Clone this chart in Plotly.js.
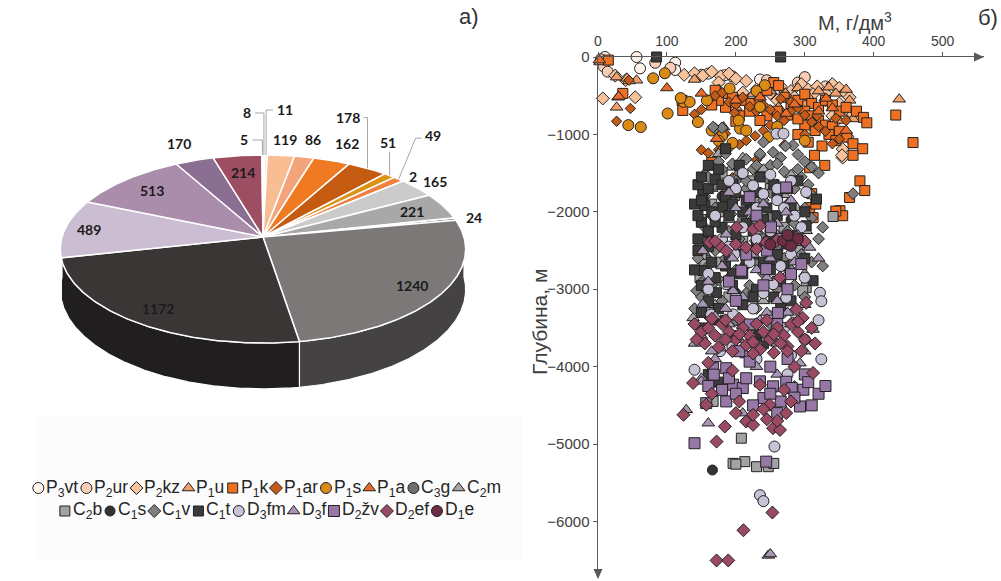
<!DOCTYPE html>
<html>
<head>
<meta charset="utf-8">
<script src="https://cdn.plot.ly/plotly-3.0.1.min.js"></script>
<style>
  html, body { margin: 0; padding: 0; background: #fff; }
  #chart { width: 1001px; height: 581px; }
</style>
</head>
<body>
<div id="chart"></div>
<script>
// formations, in legend / pie order
const formations = ['P3vt', 'P2ur', 'P2kz', 'P1u', 'P1k', 'P1ar', 'P1s', 'P1a', 'C3g', 'C2m',
  'C2b', 'C1s', 'C1v', 'C1t', 'D3fm', 'D3f', 'D2zv', 'D2ef', 'D1e'];
const formationLabels = ['P<sub>3</sub>vt', 'P<sub>2</sub>ur', 'P<sub>2</sub>kz', 'P<sub>1</sub>u', 'P<sub>1</sub>k',
  'P<sub>1</sub>ar', 'P<sub>1</sub>s', 'P<sub>1</sub>a', 'C<sub>3</sub>g', 'C<sub>2</sub>m', 'C<sub>2</sub>b',
  'C<sub>1</sub>s', 'C<sub>1</sub>v', 'C<sub>1</sub>t', 'D<sub>3</sub>fm', 'D<sub>3</sub>f', 'D<sub>2</sub>žv',
  'D<sub>2</sub>ef', 'D<sub>1</sub>e'];
// number of samples per formation (pie a)
const sampleCounts = [8, 11, 119, 86, 162, 178, 51, 49, 2, 165, 221, 24, 1240, 1172, 489, 513, 170, 214, 5];

const mineralTicks = [0, 100, 200, 300, 400, 500];
const depthTicks = [0, -1000, -2000, -3000, -4000, -5000, -6000];
const depthTickText = ['0', '−1000', '−2000', '−3000', '−4000', '−5000', '−6000'];

// [M, g/dm3 ; depth, m]
const P3vt = [[10,0],[56,0],[112,-73],[61,-147],[112,-168],[160,-215],[184,-235],[235,-290]];
const P2ur = [[4,-30],[8,-120],[14,-190],[83,-75],[105,-140],[150,-230],[195,-250],[245,-300],[290,-330],[300,-260],[330,-380]];
const P2kz = [[7,-535],[54,-520],[25,-240],[40,-300],[125,-230],[140,-210],[152,-240],[165,-190],[178,-250],[190,-215],
  [200,-280],[215,-310],[230,-420],[250,-470],[265,-380],[280,-440],[295,-350],[305,-420],[318,-380],[330,-470],
  [340,-350],[350,-400],[358,-460],[365,-520],[350,-600],[362,-680],[370,-740],[340,-760],[355,-1190],[362,-1030],
  [355,-1300],[330,-560],[312,-480],[285,-520],[210,-460],[175,-330],[260,-560],[345,-830],[354,-1270]];
const P1u = [[3,-65],[27,-260],[42,-275],[56,-300],[29,-520],[27,-650],[45,-310],[437,-545],[140,-290],[175,-420],
  [225,-480],[250,-440],[272,-470],[290,-400],[305,-510],[320,-440],[335,-390],[345,-470],[360,-420],[365,-560],
  [370,-800],[350,-820],[300,-620],[262,-650],[200,-650]];
const P1k = [[15,-40],[36,-470],[122,-560],[123,-690],[170,-430],[185,-470],[195,-520],[210,-560],[222,-600],[235,-560],
  [245,-430],[255,-330],[262,-370],[270,-520],[280,-600],[290,-560],[300,-480],[310,-600],[320,-650],[330,-560],
  [340,-620],[350,-700],[360,-650],[375,-700],[385,-780],[390,-850],[300,-700],[310,-760],[320,-820],[330,-880],
  [340,-900],[350,-960],[361,-1035],[335,-1000],[315,-950],[300,-880],[290,-800],[275,-750],[260,-700],[245,-760],
  [235,-820],[220,-700],[205,-760],[200,-830],[185,-650],[175,-560],[165,-620],[290,-1000],[305,-1100],[325,-1150],
  [345,-1080],[370,-1120],[384,-1185],[370,-1270],[314,-1270],[329,-1400],[307,-1430],[165,-1360],[432,-750],[457,-1105],
  [380,-1600],[387,-1725],[365,-1815],[351,-1985],[355,-2050],[312,-2075],[307,-1945],[310,-1765],[316,-1900],[345,-1990]];
const P1ar = [[27,-830],[47,-665],[45,-300],[140,-740],[150,-680],[160,-560],[170,-500],[180,-460],[190,-580],[200,-620],
  [210,-520],[220,-640],[230,-700],[240,-620],[250,-680],[260,-760],[270,-820],[280,-700],[290,-660],[300,-750],
  [310,-840],[320,-900],[330,-960],[340,-1120],[350,-1060],[250,-880],[240,-950],[228,-1020],[215,-1080],[205,-1130],
  [190,-1180],[175,-1200],[150,-1200],[160,-1240],[185,-990],[198,-720],[265,-540],[280,-580],[318,-760],[345,-790],
  [360,-820],[195,-1560],[230,-1330],[270,-1140],[300,-1000]];
const P1s = [[44,-880],[62,-905],[101,-730],[80,-275],[97,-210],[145,-840],[158,-560],[124,-580],[133,-580],[191,-406],
  [242,-364],[235,-645],[247,-1033],[206,-925],[204,-820],[180,-1020],[175,-1080],[195,-1110],[120,-530],[215,-950],
  [260,-900],[230,-440],[300,-1080],[165,-950]];
const P1a = [[2,-40],[30,-510],[100,-400],[273,-730],[172,-1055],[182,-905],[331,-535],[180,-1180],[200,-560],[235,-520],
  [285,-610],[320,-700],[150,-470],[340,-660],[360,-950]];
const C3g = [[225,-2115],[264,-2590]];
const C2m = [[194,-1425],[152,-3065],[138,-3370],[148,-3000],[302,-2245],[288,-1945],[254,-1640],[175,-1250],[210,-1300],[240,-1450],
  [280,-1520],[165,-1700],[230,-1850],[190,-2100],[260,-2300],[160,-2600],[210,-2700],[300,-2800],[170,-3200],[240,-3150],
  [200,-1550],[270,-1780],[155,-1500],[225,-2000],[285,-2600]];
const C2b = [[155,-2630],[148,-2460],[177,-2650],[302,-2980],[297,-3020],[198,-1790],[148,-2850],[208,-4924],[196,-5249],[213,-5227],
  [230,-5292],[247,-5292],[167,-4449],[341,-2060],[175,-2000],[165,-1900],[160,-2250],[150,-2550],[210,-2380],[270,-2200],
  [250,-1700],[220,-1600],[180,-1500],[290,-2500],[190,-3100],[160,-3300],[255,-5250],[200,-5260],[260,-2900],[150,-2100]];
const C1s = [[166,-5335],[180,-1800],[220,-1950],[160,-2300],[250,-2650],[200,-3050],[280,-2100],[170,-3400],[230,-3600],[190,-2550]];
const C1v = [[170,-925],[180,-915],[167,-905],[235,-1270],[254,-1230],[283,-1140],[235,-1250],[215,-1320],[195,-1380],[265,-1300],
  [290,-1260],[300,-1350],[310,-1420],[250,-1400],[225,-1450],[180,-1450],[160,-1550],[205,-1500],[245,-1560],[270,-1480],
  [295,-1550],[320,-1500],[370,-1765],[326,-2200],[326,-2700],[181,-1920],[193,-2030],[150,-2395],[143,-3020],[150,-2915],
  [177,-2890],[249,-2590],[228,-2375],[170,-1650],[215,-1700],[260,-1650],[285,-1700],[305,-1650],[155,-1800],[195,-1800],
  [240,-1850],[275,-1900],[300,-1950],[165,-2050],[210,-2100],[250,-2050],[285,-2150],[310,-2080],[155,-2200],[190,-2250],
  [235,-2300],[270,-2350],[300,-2400],[170,-2500],[215,-2550],[260,-2500],[295,-2550],[160,-2700],[200,-2750],[240,-2800],
  [280,-2750],[310,-2650],[165,-2950],[220,-2950],[260,-3000],[300,-3100],[180,-3150],[230,-3250],[270,-3300],[150,-3100],
  [200,-3400],[250,-3450],[140,-3250],[290,-3400],[310,-1780],[145,-2600],[320,-2350],[200,-1600],[230,-1400],[185,-1250],
  [272,-1150],[240,-1100],[175,-1350],[260,-1380],[290,-1450],[215,-1600],[185,-1700],[250,-1750],[170,-1950],[230,-2150],
  [275,-2250],[205,-2350],[250,-2450],[185,-2600],[230,-2650],[270,-2600],[190,-2850],[245,-2900],[285,-2950],[215,-3050],
  [160,-3350],[270,-3150]];
const C1t = [[85,0],[265,0],[185,-1185],[152,-1770],[155,-1920],[150,-2135],[181,-1940],[196,-1640],[153,-2760],[172,-3045],
  [312,-2890],[225,-2545],[273,-2415],[302,-2180],[317,-1835],[145,-1650],[160,-1700],[170,-1580],[185,-1800],[200,-1750],
  [215,-1850],[165,-2000],[190,-2050],[210,-2000],[145,-2050],[160,-2250],[180,-2200],[200,-2300],[225,-2250],[250,-2350],
  [145,-2350],[160,-2450],[190,-2550],[165,-2650],[185,-2700],[210,-2800],[240,-2650],[270,-2700],[150,-2950],[195,-2950],
  [230,-3000],[255,-3100],[175,-3250],[210,-3200],[280,-3150],[150,-3300],[255,-1650],[280,-1950],[240,-2100],[290,-2300],
  [300,-2600],[260,-1800],[235,-1550],[175,-1450],[205,-1400],[160,-1400],[290,-1600],[300,-2000],[265,-2900],[155,-3500],
  [195,-3600],[240,-3700],[175,-4200],[160,-4100],[200,-2450],[230,-2400],[170,-2850],[260,-2550],[245,-1950],[140,-1900],
  [170,-2130],[215,-2650],[150,-1550],[180,-1650],[230,-1750],[275,-1700],[150,-1850],[195,-1900],[260,-2050],[215,-2150],
  [145,-2500],[175,-2400],[220,-2500],[250,-2750],[195,-2800],[160,-3150],[225,-3100],[265,-3250],[185,-3400],[140,-2750]];
const D3fm = [[259,-990],[269,-990],[225,-1660],[302,-1745],[240,-1770],[322,-3045],[324,-3155],[324,-3905],[140,-4040],[177,-3800],
  [186,-2935],[254,-2935],[273,-3110],[198,-2545],[164,-3325],[196,-3325],[256,-5032],[235,-5660],[240,-5737],[210,-1500],
  [250,-1520],[280,-1600],[200,-1700],[260,-1850],[230,-1950],[285,-2050],[210,-2200],[250,-2250],[180,-2350],[280,-2550],
  [220,-2650],[160,-2800],[300,-2850],[240,-3050],[210,-3450],[270,-3500],[180,-3650],[300,-3650],[150,-3550],[230,-3900],
  [285,-3300],[260,-1700],[220,-1800],[245,-2450],[200,-3100],[320,-3400],[295,-2200],[170,-2050],[275,-4100],[190,-1600],
  [270,-1950],[230,-2350],[265,-2700],[190,-2450],[160,-3000],[225,-3250],[250,-3350],[195,-3750],[280,-3850]];
const D3f = [[220,-2005],[186,-2290],[273,-2005],[152,-2505],[307,-2460],[196,-3020],[152,-3195],[225,-3500],[312,-3520],[293,-3955],
  [150,-4150],[177,-3760],[150,-4190],[128,-4557],[160,-4730],[247,-6438],[250,-6420],[240,-1900],[200,-1950],[260,-2150],
  [230,-2250],[290,-2300],[165,-2400],[210,-2450],[250,-2600],[180,-2700],[230,-2750],[275,-2800],[160,-2900],[210,-3100],
  [260,-3150],[300,-3200],[170,-3350],[245,-3300],[190,-3450],[280,-3450],[150,-3600],[205,-3650],[260,-3700],[300,-3800],
  [170,-3900],[230,-4000],[260,-4100],[200,-4250],[190,-1750],[280,-1850],[320,-2600],[140,-3700],[240,-4400],[210,-4600],
  [225,-2550],[195,-2600],[285,-2650],[245,-2850],[185,-3250],[275,-3300],[235,-3400],[165,-3800],[215,-3850],[285,-4250]];
const D2zv = [[220,-1810],[251,-2200],[273,-1685],[208,-2760],[244,-2740],[280,-2805],[295,-2675],[261,-3305],[220,-3455],[167,-4020],
  [186,-4020],[220,-3935],[273,-4195],[168,-4103],[140,-4989],[186,-4449],[196,-4233],[210,-4276],[235,-4190],[254,-4254],
  [281,-4276],[298,-4298],[293,-4514],[240,-4406],[157,-4471],[244,-5227],[230,-2050],[265,-2350],[215,-2550],[240,-2950],
  [200,-3150],[275,-3000],[245,-3600],[205,-3800],[250,-4000],[300,-4100],[320,-4350],[225,-4500],[265,-4450],[200,-4350],
  [180,-4300],[330,-4250],[285,-4400],[215,-4150],[160,-4250],[310,-4500],[260,-4600],[245,-2500],[190,-2900],[260,-3450],
  [230,-3750],[275,-3900],[190,-4150],[250,-4350],[305,-4200]];
const D2ef = [[162,-2395],[177,-2440],[186,-2505],[201,-2200],[225,-2225],[235,-2180],[215,-2460],[244,-2395],[259,-2375],[288,-2330],
  [170,-2380],[200,-2420],[275,-2420],[300,-2380],[230,-2480],[264,-2850],[288,-3260],[302,-3175],[297,-3370],[140,-3450],
  [150,-3550],[160,-3500],[170,-3600],[180,-3450],[190,-3550],[200,-3650],[210,-3500],[220,-3600],[230,-3450],[240,-3550],
  [250,-3650],[260,-3500],[270,-3600],[280,-3450],[290,-3550],[300,-3650],[310,-3500],[155,-3700],[175,-3750],[195,-3800],
  [215,-3720],[235,-3780],[255,-3820],[275,-3740],[295,-3800],[315,-3700],[165,-3380],[205,-3380],[245,-3400],[290,-3420],
  [143,-3650],[185,-3650],[225,-3680],[265,-3700],[138,-4211],[124,-4622],[184,-4773],[172,-4968],[211,-6113],[253,-5884],
  [172,-6503],[189,-6503],[215,-4708],[225,-4752],[254,-4795],[264,-4817],[273,-4600],[312,-4081],[235,-4233],[249,-4492],
  [157,-4492],[225,-4622],[240,-4550],[260,-4700],[205,-4450],[270,-4300],[195,-4050],
  [285,-4000],[160,-3950],[185,-3400],[255,-3580],[205,-3580],[275,-3800],[225,-3830],[165,-4350],[280,-4450],
  [245,-4680],[200,-4600]];
const D1e = [[268,-2375],[290,-2350],[280,-2440],[250,-2420],[275,-2300]];

const seriesPoints = {P3vt, P2ur, P2kz, P1u, P1k, P1ar, P1s, P1a, C3g, C2m, C2b, C1s, C1v, C1t, D3fm, D3f, D2zv, D2ef, D1e};

// ---- styles ----
const markerStyle = {
  P3vt: ['circle', 11, '#fdf1ea'], P2ur: ['circle', 11, '#f8cdb6'], P2kz: ['diamond', 10, '#f7c39d'],
  P1u: ['triangle-up', 11, '#f1a06c'], P1k: ['square', 10, '#f07021'], P1ar: ['diamond', 8, '#c25b17'],
  P1s: ['circle', 11, '#dc8a16'], P1a: ['triangle-up', 11, '#ea6a2a'], C3g: ['circle', 11, '#6f6f6f'],
  C2m: ['triangle-up', 11, '#a6a6a6'], C2b: ['square', 10, '#a3a3a3'], C1s: ['circle', 10, '#333333'],
  C1v: ['diamond', 9, '#7f7f7f'], C1t: ['square', 10, '#3b3b3b'], D3fm: ['circle', 11, '#c8c2d6'],
  D3f: ['triangle-up', 11, '#a795b3'], D2zv: ['square', 11, '#9677a6'], D2ef: ['diamond', 10, '#9b4a63'],
  D1e: ['circle', 11, '#6b2c44']
};
const pieColor = {
  P3vt: '#fff3ec', P2ur: '#fbd9c6', P2kz: '#f8bd93', P1u: '#f4a47a', P1k: '#ef7a22', P1ar: '#c55a11',
  P1s: '#d89412', P1a: '#f08040', C3g: '#a0a0a0', C2m: '#cbcbcb', C2b: '#a8a8a8', C1s: '#5a5a5a',
  C1v: '#7c7878', C1t: '#3a3636', D3fm: '#cbbdd2', D3f: '#a98daa', D2zv: '#8b6f92', D2ef: '#9e4e62', D1e: '#6d2d45'
};
// label placement: r = radial factor; dx/dy = offset from rim with leader line
const pieLabelPlace = {
  P3vt: {dx: -17, dy: -42, leader: 'elbow'}, P2ur: {dx: 19, dy: -45, leader: 'elbow'},
  P2kz: {r: 1.23}, P1u: {r: 1.25}, P1k: {r: 1.25},
  P1ar: {dx: -20, dy: -51, leader: 'elbow'}, P1s: {dx: -2, dy: -33, leader: 'up'},
  P1a: {dx: 34, dy: -44, leader: 'diag'}, C3g: {r: 1.08}, C2m: {r: 1.13}, C2b: {r: 0.82},
  C1s: {r: 1.1}, C1v: {r: 0.85}, C1t: {r: 0.85}, D3fm: {r: 0.88}, D3f: {r: 0.8},
  D2zv: {r: 1.25}, D2ef: {r: 0.77}, D1e: {dx: -18, dy: -15, leader: 'elbow'}
};

const W = 1001, H = 581;
const px = x => x / W, py = y => 1 - y / H;

// pie geometry in page pixels (tilted disc with a bit of perspective)
const pieCx = 263, pieCy = 237, pieRx = 201, pieRy = 92.5, pieK = 0.1277, pieDepth = 40;

function proj(deg, r) {
  const t = deg * Math.PI / 180;
  const u = r * Math.sin(t), v = -r * Math.cos(t);
  const s = 1 / (1 - pieK * v);
  return [pieCx + pieRx * u * s, pieCy + pieRy * v * s, s];
}
function arc(a0, a1) {
  const pts = [];
  const n = Math.max(2, Math.ceil((a1 - a0) / 0.5));
  for (let j = 0; j <= n; j++) pts.push(proj(a0 + (a1 - a0) * j / n, 1));
  return pts;
}
function shade(hex, f) {
  const n = parseInt(hex.slice(1), 16);
  const c = [(n >> 16) & 255, (n >> 8) & 255, n & 255].map(x => Math.round(x * f));
  return 'rgb(' + c.join(',') + ')';
}

const total = sampleCounts.reduce((a, b) => a + b, 0);
let acc = 0;
const slices = sampleCounts.map((v, i) => {
  const a0 = acc / total * 360;
  acc += v;
  return {name: formations[i], value: v, a0, a1: acc / total * 360};
});

const traces = [];
// side wall (front half only)
slices.forEach(sl => {
  const lo = Math.max(sl.a0, 90), hi = Math.min(sl.a1, 270);
  if (hi <= lo) return;
  const top = arc(lo, hi);
  const bottom = top.slice().reverse().map(p => [p[0], p[1] + pieDepth * p[2]]);
  const pts = top.concat(bottom);
  pts.push(top[0]);
  traces.push({
    x: pts.map(p => p[0]), y: pts.map(p => p[1]), xaxis: 'x', yaxis: 'y',
    mode: 'lines', fill: 'toself', fillcolor: shade(pieColor[sl.name], 0.55),
    line: {color: '#ffffff', width: 1.2}, hoverinfo: 'skip', showlegend: false
  });
});
// top face
slices.forEach(sl => {
  const pts = [[pieCx, pieCy]].concat(arc(sl.a0, sl.a1), [[pieCx, pieCy]]);
  traces.push({
    x: pts.map(p => p[0]), y: pts.map(p => p[1]), xaxis: 'x', yaxis: 'y',
    mode: 'lines', fill: 'toself', fillcolor: pieColor[sl.name],
    line: {color: '#ffffff', width: 1.5}, hoverinfo: 'skip', showlegend: false
  });
});

const annotations = [];
// pie value labels and leader lines
slices.forEach(sl => {
  const place = pieLabelPlace[sl.name];
  const mid = (sl.a0 + sl.a1) / 2;
  let lx, ly;
  if (place.r) {
    [lx, ly] = proj(mid, place.r);
  } else {
    const rim = proj(mid, 1);
    lx = rim[0] + place.dx; ly = rim[1] + place.dy;
    const hw = String(sl.value).length * 4 + 1;
    let path;
    if (place.leader === 'elbow') {
      const side = place.dx < 0 ? 1 : -1;
      path = [rim, [rim[0], ly], [lx + side * (hw + 3), ly]];
    } else if (place.leader === 'up') {
      path = [rim, [rim[0], ly + 9]];
    } else {
      path = [rim, [lx - hw - 8, ly + 3], [lx - hw - 2, ly + 3]];
    }
    traces.push({
      x: path.map(p => p[0]), y: path.map(p => p[1]), xaxis: 'x', yaxis: 'y',
      mode: 'lines', line: {color: '#a6a6a6', width: 1}, hoverinfo: 'skip', showlegend: false
    });
  }
  annotations.push({
    xref: 'paper', yref: 'paper', x: px(lx), y: py(ly), xanchor: 'center', yanchor: 'middle',
    text: '<b>' + sl.value + '</b>', showarrow: false,
    font: {family: 'Lato, Open Sans, sans-serif', size: 14, color: '#1a1a1a'}
  });
});

// scatter, panel b
formations.forEach(name => {
  const [symbol, size, color] = markerStyle[name];
  const pts = seriesPoints[name];
  traces.push({
    x: pts.map(p => p[0]), y: pts.map(p => p[1]), xaxis: 'x2', yaxis: 'y2',
    type: 'scatter', mode: 'markers', name: name, cliponaxis: false, showlegend: false,
    marker: {symbol, size, color, line: {color: '#222222', width: 1}}
  });
});

// legend drawn under the pie: two rows, measured text widths
const legendFont = 17.5;
const measure = document.createElement('canvas').getContext('2d');
function labelWidth(html) {
  return html.split(/<\/?sub>/).reduce((w, part, i) => {
    measure.font = (i % 2 ? legendFont * 0.7 : legendFont) + 'px "Liberation Sans"';
    return w + measure.measureText(part).width;
  }, 0);
}
const legendRows = [[0, 10, 488], [10, 19, 511]];
legendRows.forEach(([from, to, rowY]) => {
  const idx = formations.slice(from, to).map((_, j) => from + j);
  const widths = idx.map(i => labelWidth(formationLabels[i]));
  const rowW = 5 + widths.reduce((a, w) => a + 8 + w, 0) + 8 * (idx.length - 1);
  let mx = 267 - rowW / 2 + 5;
  idx.forEach((i, j) => {
    const [symbol, size, color] = markerStyle[formations[i]];
    traces.push({
      x: [mx], y: [rowY], xaxis: 'x', yaxis: 'y', mode: 'markers', hoverinfo: 'skip', showlegend: false,
      marker: {symbol, size: Math.max(size, 10), color, line: {color: '#222222', width: 1}}
    });
    annotations.push({
      xref: 'paper', yref: 'paper', x: px(mx + 6), y: py(rowY), xanchor: 'left', yanchor: 'middle',
      showarrow: false, text: formationLabels[i], font: {size: legendFont, color: '#262626'}
    });
    mx += 8 + widths[j] + 8;
  });
});

// axis titles and panel letters
annotations.push(
  {xref: 'paper', yref: 'paper', x: px(855), y: py(21), xanchor: 'center', yanchor: 'middle',
   text: 'M, г/дм<sup>3</sup>', showarrow: false, font: {size: 20, color: '#404040'}},
  {xref: 'paper', yref: 'paper', x: px(539), y: py(322), xanchor: 'center', yanchor: 'middle',
   text: 'Глубина, м', textangle: -90, showarrow: false, font: {size: 21, color: '#404040'}},
  {xref: 'paper', yref: 'paper', x: px(469), y: py(16), xanchor: 'center', yanchor: 'middle',
   text: 'а)', showarrow: false, font: {size: 22, color: '#333333'}},
  {xref: 'paper', yref: 'paper', x: px(988), y: py(18), xanchor: 'center', yanchor: 'middle',
   text: 'б)', showarrow: false, font: {size: 22, color: '#333333'}}
);

// panel b frame in page pixels
const plotL = 598, plotR = 984, plotT = 57, plotB = 578;

const layout = {
  width: W, height: H,
  margin: {l: 0, r: 0, t: 0, b: 0},
  paper_bgcolor: '#ffffff', plot_bgcolor: 'rgba(0,0,0,0)',
  showlegend: false, hovermode: false,
  font: {family: 'Liberation Sans, Arial, sans-serif', color: '#404040'},
  xaxis: {domain: [0, 1], range: [0, W], visible: false, fixedrange: true},
  yaxis: {domain: [0, 1], range: [H, 0], visible: false, fixedrange: true},
  xaxis2: {
    domain: [px(plotL), px(plotR)], range: [0, 560], anchor: 'y2', side: 'top',
    showline: true, linecolor: '#595959', linewidth: 1.5, showgrid: false, zeroline: false,
    ticks: 'outside', ticklen: 4, tickcolor: '#595959',
    tickvals: mineralTicks, ticktext: mineralTicks.map(String),
    tickfont: {size: 14, color: '#404040'}, automargin: false
  },
  yaxis2: {
    domain: [py(plotB), py(plotT)], range: [-6730, 0], anchor: 'x2',
    showline: true, linecolor: '#595959', linewidth: 1.5, showgrid: false, zeroline: false,
    ticks: 'outside', ticklen: 4, tickcolor: '#595959',
    tickvals: depthTicks, ticktext: depthTickText,
    tickfont: {size: 15, color: '#404040'}, automargin: false
  },
  shapes: [
    {type: 'rect', xref: 'x', yref: 'y', x0: 37, x1: 522, y0: 415, y1: 560,
     fillcolor: '#fcfcfc', line: {width: 0}, layer: 'below'},
    // arrow heads at the axis ends
    {type: 'path', xref: 'x', yref: 'y', layer: 'above', fillcolor: '#595959', line: {width: 0},
     path: `M ${plotR} ${plotT} L ${plotR - 10} ${plotT - 4.5} L ${plotR - 10} ${plotT + 4.5} Z`},
    {type: 'path', xref: 'x', yref: 'y', layer: 'above', fillcolor: '#595959', line: {width: 0},
     path: `M ${plotL} ${plotB + 1} L ${plotL - 4.5} ${plotB - 9} L ${plotL + 4.5} ${plotB - 9} Z`}
  ],
  annotations
};

Plotly.newPlot('chart', traces, layout, {staticPlot: true, displayModeBar: false});
</script>
</body>
</html>
